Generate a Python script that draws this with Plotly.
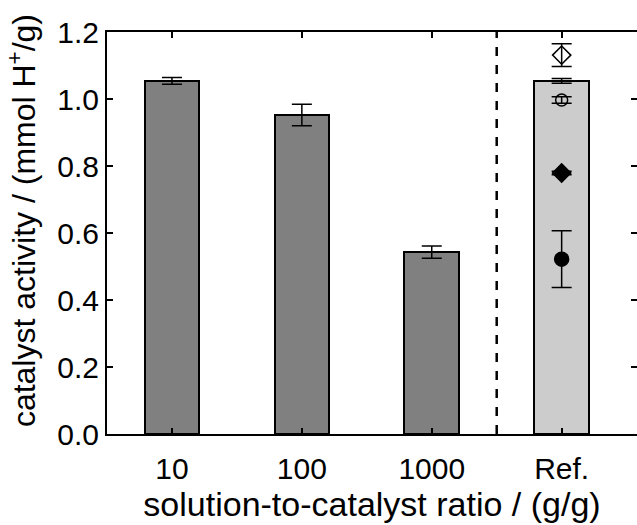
import plotly.graph_objects as go

categories = ["10", "100", "1000", "Ref."]
activity = [1.054, 0.952, 0.543, 1.054]
activity_err = [0.010, 0.032, 0.018, 0.007]
bar_colors = ["#808080", "#808080", "#808080", "#cccccc"]

ref_values = [1.131, 0.997, 0.779, 0.522]
ref_errors = [0.034, 0.010, 0.005, 0.085]
ref_symbols = ["diamond-open", "circle-open", "diamond", "circle"]
ref_sizes = [14, 12, 14, 14]

y_ticks = [0.0, 0.2, 0.4, 0.6, 0.8, 1.0, 1.2]

FONT = "Liberation Sans, Arial, sans-serif"

fig = go.Figure()
fig.add_trace(go.Bar(
    x=categories, y=activity, width=0.42,
    marker=dict(color=bar_colors, line=dict(color="black", width=2)),
    error_y=dict(type="data", array=activity_err, color="black", thickness=1.5, width=10),
    showlegend=False,
))
for v, e, s, sz in zip(ref_values, ref_errors, ref_symbols, ref_sizes):
    fig.add_trace(go.Scatter(
        x=["Ref."], y=[v], mode="markers",
        marker=dict(symbol=s, size=sz, color="black", line=dict(color="black", width=1.5)),
        error_y=dict(type="data", array=[e], color="black", thickness=1.5, width=10),
        showlegend=False,
    ))
# invisible trace to carry right-hand ticks
fig.add_trace(go.Scatter(x=["Ref."], y=[0], yaxis="y2", mode="markers",
                         marker=dict(opacity=0), showlegend=False, hoverinfo="skip"))

fig.add_shape(type="line", xref="x", yref="paper", x0=2.5, x1=2.5, y0=0, y1=1,
              line=dict(color="black", width=2.5, dash="dash"))

fig.add_annotation(
    text="catalyst activity / (mmol H<sup>+</sup>/g)", textangle=-90,
    xref="paper", yref="paper", x=-0.1604, y=0.532, xanchor="center", yanchor="middle",
    showarrow=False, font=dict(size=32, family=FONT, color="black"),
)

fig.update_layout(
    width=637, height=525,
    margin=dict(l=107, r=0, t=32, b=91),
    plot_bgcolor="white", paper_bgcolor="white",
    font=dict(family=FONT, color="black"),
    bargap=0,
    xaxis=dict(
        type="category", range=[-0.5, 3.58],
        showline=True, linecolor="black", linewidth=2, mirror="ticks",
        ticks="inside", ticklen=6, tickwidth=2, tickcolor="black",
        tickfont=dict(size=30), showgrid=False, ticklabelstandoff=7,
        title=dict(text="solution-to-catalyst ratio / (g/g)", font=dict(size=34), standoff=6),
    ),
    yaxis=dict(
        range=[0, 1.2], tickvals=y_ticks, ticktext=[f"{t:.1f}" for t in y_ticks],
        showline=True, linecolor="black", linewidth=2,
        ticks="inside", ticklen=6, tickwidth=2, tickcolor="black",
        tickfont=dict(size=30), showgrid=False, zeroline=False,
    ),
    yaxis2=dict(
        overlaying="y", side="right", range=[0, 1.2], tickvals=y_ticks,
        showticklabels=False, showline=False, ticks="inside", ticklen=6, tickwidth=2,
        tickcolor="black", showgrid=False, zeroline=False,
    ),
)

fig.write_html("out.html")
